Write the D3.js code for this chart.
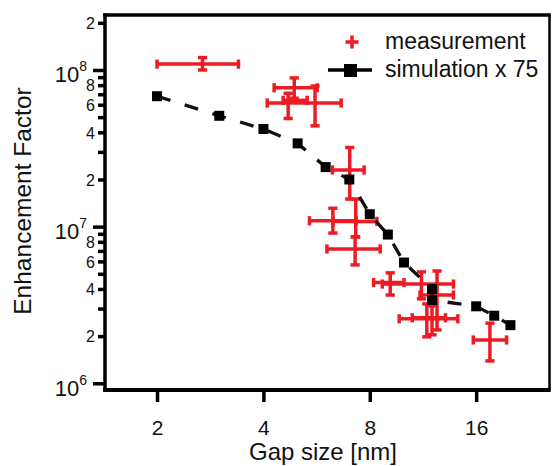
<!DOCTYPE html>
<html>
<head>
<meta charset="utf-8">
<script src="https://cdn.jsdelivr.net/npm/d3@7"></script>
<style>
  body { margin: 0; background: #fff; }
  svg { display: block; font-family: "Liberation Sans", Arial, Helvetica, sans-serif; }
</style>
</head>
<body>
<div id="wrapper"></div>
<script>
// simulation (already multiplied by 75)
const simGap = [2, 3, 4, 5, 6, 7, 8, 9, 10, 12, 12, 16, 18, 20]
const simFactor = [6.8e7, 5.1e7, 4.2e7, 3.4e7, 2.4e7, 2.0e7, 1.2e7, 8.9e6, 5.9e6, 4.0e6, 3.4e6, 3.1e6, 2.7e6, 2.35e6]

// measurements with error ranges
const measGap = [2.69, 4.89, 5.60, 4.70, 7.02, 6.29, 7.30, 7.27, 9.14, 11.2, 12.4, 11.6, 12.0, 17.5]
const measGapLow = [2.0, 4.29, 4.10, 4.55, 6.27, 5.40, 6.30, 6.05, 8.20, 8.68, 11.1, 9.69, 10.55, 15.7]
const measGapHigh = [3.40, 5.68, 6.64, 5.32, 7.71, 7.32, 8.38, 8.56, 10.0, 13.8, 13.8, 14.2, 13.1, 19.5]
const measFactor = [1.09e8, 7.7e7, 6.15e7, 6.4e7, 2.3e7, 1.09e7, 1.08e7, 7.2e6, 4.4e6, 4.3e6, 3.66e6, 2.58e6, 2.62e6, 1.89e6]
const measFactorLow = [1.0e8, 6.6e7, 4.4e7, 4.9e7, 1.5e7, 9.1e6, 8.6e6, 5.7e6, 3.66e6, 3.46e6, 2.19e6, 1.98e6, 2.04e6, 1.39e6]
const measFactorHigh = [1.2e8, 8.9e7, 7.9e7, 7.1e7, 3.2e7, 1.31e7, 1.5e7, 8.6e6, 5.07e6, 5.14e6, 5.21e6, 3.21e6, 3.12e6, 2.42e6]

// axes
const xTicks = [2, 4, 8, 16]
const xDomain = [1.425, 25.8]
const yDomain = [9.06e5, 2.244e8]
const yMajorTicks = [1e6, 1e7, 1e8]
const yMinorTicks = [2e6, 3e6, 4e6, 5e6, 6e6, 7e6, 8e6, 9e6,
  2e7, 3e7, 4e7, 5e7, 6e7, 7e7, 8e7, 9e7, 2e8]
const yMinorLabelled = [2e6, 4e6, 6e6, 8e6, 2e7, 4e7, 6e7, 8e7, 2e8]

const legendLabels = ["measurement", "simulation x 75"]
const xLabel = "Gap size [nm]"
const yLabel = "Enhancement Factor"

const red = "#ed1c24"

function drawChart() {
  let dimensions = {
    width: 552,
    height: 466,
    margin: {
      top: 15,
      right: 2.5,
      bottom: 76,
      left: 105
    }
  }
  dimensions.boundedWidth = dimensions.width
    - dimensions.margin.left
    - dimensions.margin.right
  dimensions.boundedHeight = dimensions.height
    - dimensions.margin.top
    - dimensions.margin.bottom

  const wrapper = d3.select("#wrapper")
    .append("svg")
      .attr("width", dimensions.width)
      .attr("height", dimensions.height)

  const bounds = wrapper.append("g")
    .attr("transform", `translate(${dimensions.margin.left},${dimensions.margin.top})`)

  const xScale = d3.scaleLog()
    .base(2)
    .domain(xDomain)
    .range([0, dimensions.boundedWidth])

  const yScale = d3.scaleLog()
    .domain(yDomain)
    .range([dimensions.boundedHeight, 0])

  // measurements (red crosses)
  const cap = 4.6
  const meas = measGap.map((g, i) => ({
    x: g, xlo: measGapLow[i], xhi: measGapHigh[i],
    y: measFactor[i], ylo: measFactorLow[i], yhi: measFactorHigh[i]
  }))

  const crosses = bounds.append("g")
    .attr("stroke", red)
    .attr("stroke-width", 3.5)
    .selectAll("g")
    .data(meas)
    .enter().append("g")

  crosses.append("line")
    .attr("x1", d => xScale(d.xlo))
    .attr("x2", d => xScale(d.xhi))
    .attr("y1", d => yScale(d.y))
    .attr("y2", d => yScale(d.y))
  crosses.append("line")
    .attr("x1", d => xScale(d.x))
    .attr("x2", d => xScale(d.x))
    .attr("y1", d => yScale(d.ylo))
    .attr("y2", d => yScale(d.yhi))
  ;["xlo", "xhi"].forEach(k => {
    crosses.append("line")
      .attr("x1", d => xScale(d[k]))
      .attr("x2", d => xScale(d[k]))
      .attr("y1", d => yScale(d.y) - cap)
      .attr("y2", d => yScale(d.y) + cap)
  })
  ;["ylo", "yhi"].forEach(k => {
    crosses.append("line")
      .attr("x1", d => xScale(d.x) - cap)
      .attr("x2", d => xScale(d.x) + cap)
      .attr("y1", d => yScale(d[k]))
      .attr("y2", d => yScale(d[k]))
  })

  // simulation (dashed line + squares)
  const sim = simGap.map((g, i) => ({ x: g, y: simFactor[i] }))

  const lineGenerator = d3.line()
    .x(d => xScale(d.x))
    .y(d => yScale(d.y))

  bounds.append("path")
    .attr("d", lineGenerator(sim))
    .attr("fill", "none")
    .attr("stroke", "#111")
    .attr("stroke-width", 3.3)
    .attr("stroke-dasharray", "14,15")

  const sq = 10
  bounds.selectAll(".sim")
    .data(sim)
    .enter().append("rect")
      .attr("class", "sim")
      .attr("x", d => xScale(d.x) - sq / 2)
      .attr("y", d => yScale(d.y) - sq / 2)
      .attr("width", sq)
      .attr("height", sq)
      .attr("fill", "#000")

  // x axis
  const xAxisGenerator = d3.axisBottom(xScale)
    .tickValues(xTicks)
    .tickFormat(d3.format("d"))
    .tickSize(12)
    .tickSizeOuter(0)

  const xAxis = bounds.append("g")
    .attr("transform", `translate(0,${dimensions.boundedHeight})`)
    .call(xAxisGenerator)
  xAxis.select(".domain").remove()
  xAxis.selectAll(".tick line")
    .attr("stroke", "#000")
    .attr("stroke-width", 3.5)
  xAxis.selectAll(".tick text")
    .attr("y", 45)
    .attr("dy", 0)
    .attr("fill", "#111")
    .style("font-size", "21px")

  // y axis, minor ticks
  const yMinorGenerator = d3.axisLeft(yScale)
    .tickValues(yMinorTicks)
    .tickSize(7)
    .tickPadding(3)
    .tickFormat(d => yMinorLabelled.includes(d) ? String(Math.round(d / Math.pow(10, Math.floor(Math.log10(d) + 1e-9)))) : "")

  const yMinor = bounds.append("g").call(yMinorGenerator)
  yMinor.select(".domain").remove()
  yMinor.selectAll(".tick line")
    .attr("stroke", "#000")
    .attr("stroke-width", 3.5)
  yMinor.selectAll(".tick text")
    .attr("fill", "#111")
    .attr("dy", "0.36em")
    .style("font-size", "16px")

  // y axis, decades
  const yMajorGenerator = d3.axisLeft(yScale)
    .tickValues(yMajorTicks)
    .tickSize(12)
    .tickPadding(6)
    .tickFormat("")

  const yMajor = bounds.append("g").call(yMajorGenerator)
  yMajor.select(".domain").remove()
  yMajor.selectAll(".tick line")
    .attr("stroke", "#000")
    .attr("stroke-width", 3.5)
  const majorText = yMajor.selectAll(".tick text")
    .attr("x", -18)
    .attr("dy", 0)
    .attr("y", 12)
    .attr("fill", "#111")
    .style("font-size", "22px")
  majorText.append("tspan").text("10")
  majorText.append("tspan")
    .attr("dy", -11)
    .style("font-size", "14px")
    .text(d => Math.round(Math.log10(d)))

  // frame
  const frame = bounds.append("g").attr("stroke", "#000")
  frame.append("line")
    .attr("x1", -2).attr("x2", dimensions.boundedWidth + 1.25)
    .attr("y1", 0).attr("y2", 0).attr("stroke-width", 3.3)
  frame.append("line")
    .attr("x1", dimensions.boundedWidth).attr("x2", dimensions.boundedWidth)
    .attr("y1", 0).attr("y2", dimensions.boundedHeight).attr("stroke-width", 2.5)
  frame.append("line")
    .attr("x1", 0).attr("x2", 0)
    .attr("y1", -1.6).attr("y2", dimensions.boundedHeight + 2).attr("stroke-width", 3.5)
  frame.append("line")
    .attr("x1", -1.75).attr("x2", dimensions.boundedWidth + 1.25)
    .attr("y1", dimensions.boundedHeight).attr("y2", dimensions.boundedHeight)
    .attr("stroke-width", 4)

  // axis titles
  wrapper.append("text")
    .attr("x", 323)
    .attr("y", 460)
    .attr("text-anchor", "middle")
    .attr("fill", "#111")
    .style("font-size", "24px")
    .text(xLabel)

  wrapper.append("text")
    .attr("transform", "translate(31,201) rotate(-90)")
    .attr("text-anchor", "middle")
    .attr("fill", "#111")
    .style("font-size", "24.5px")
    .text(yLabel)

  // legend
  const legend = wrapper.append("g")
  legend.append("line")
    .attr("x1", 345.5).attr("x2", 358.5).attr("y1", 42).attr("y2", 42)
    .attr("stroke", red).attr("stroke-width", 3.5)
  legend.append("line")
    .attr("x1", 352).attr("x2", 352).attr("y1", 35.5).attr("y2", 48.5)
    .attr("stroke", red).attr("stroke-width", 3.5)
  legend.append("line")
    .attr("x1", 328).attr("x2", 372).attr("y1", 70).attr("y2", 70)
    .attr("stroke", "#000").attr("stroke-width", 3.3)
  legend.append("rect")
    .attr("x", 344).attr("y", 64).attr("width", 13).attr("height", 13)
    .attr("fill", "#000")
  legend.selectAll(".legend-label")
    .data(legendLabels)
    .enter().append("text")
      .attr("class", "legend-label")
      .attr("x", 385)
      .attr("y", (d, i) => 49 + i * 28)
      .attr("fill", "#111")
      .style("font-size", "23px")
      .text(d => d)
}

drawChart()
</script>
</body>
</html>
